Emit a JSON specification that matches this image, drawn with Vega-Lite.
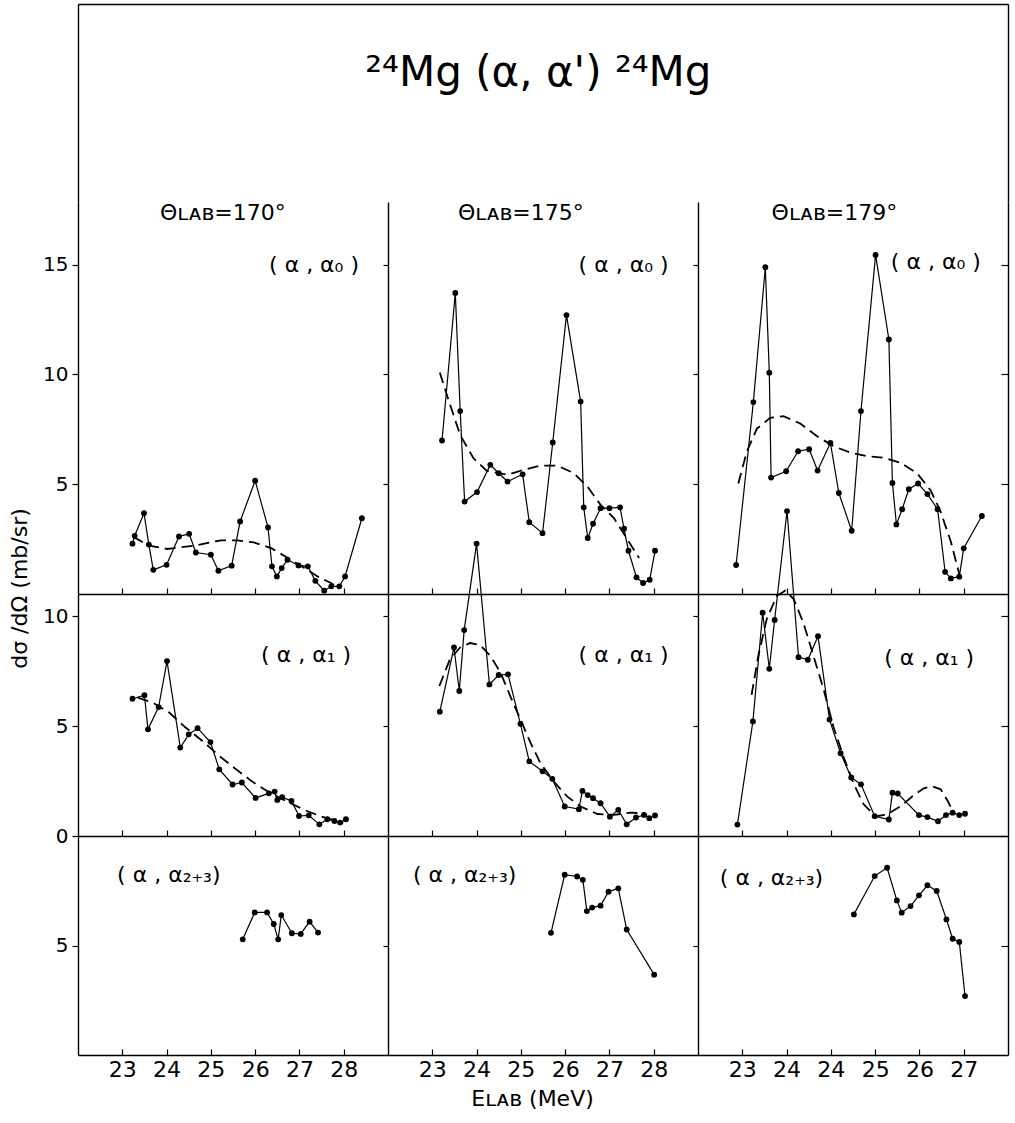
{
"$schema":"https://vega.github.io/schema/vega-lite/v6.json",
"background":"white",
"padding":{"left":8,"top":4,"right":5,"bottom":5},
"config":{
 "view":{"stroke":null},
 "axis":{"grid":false,"domainColor":"#000","domainWidth":1.4,"tickColor":"#000","tickWidth":1.2,"labelColor":"#000","labelFont":"DejaVu Sans","labelFontSize":20,"titleColor":"#000","titleFont":"DejaVu Sans","titleFontSize":22,"titleFontWeight":"normal"},
 "text":{"font":"DejaVu Sans","color":"#000"}
},
"datasets":{
 "meas":[
  {"angle":170,"trans":"a0","E":23.23,"sigma":2.29},{"angle":170,"trans":"a0","E":23.28,"sigma":2.65},{"angle":170,"trans":"a0","E":23.49,"sigma":3.68},{"angle":170,"trans":"a0","E":23.6,"sigma":2.25},{"angle":170,"trans":"a0","E":23.7,"sigma":1.1},{"angle":170,"trans":"a0","E":24.0,"sigma":1.33},{"angle":170,"trans":"a0","E":24.28,"sigma":2.62},{"angle":170,"trans":"a0","E":24.51,"sigma":2.74},{"angle":170,"trans":"a0","E":24.66,"sigma":1.89},{"angle":170,"trans":"a0","E":25.0,"sigma":1.79},{"angle":170,"trans":"a0","E":25.17,"sigma":1.06},{"angle":170,"trans":"a0","E":25.47,"sigma":1.29},{"angle":170,"trans":"a0","E":25.66,"sigma":3.3},{"angle":170,"trans":"a0","E":26.0,"sigma":5.16},{"angle":170,"trans":"a0","E":26.29,"sigma":3.03},{"angle":170,"trans":"a0","E":26.38,"sigma":1.26},{"angle":170,"trans":"a0","E":26.49,"sigma":0.8},{"angle":170,"trans":"a0","E":26.6,"sigma":1.18},{"angle":170,"trans":"a0","E":26.73,"sigma":1.56},{"angle":170,"trans":"a0","E":26.98,"sigma":1.3},{"angle":170,"trans":"a0","E":27.19,"sigma":1.26},{"angle":170,"trans":"a0","E":27.36,"sigma":0.6},{"angle":170,"trans":"a0","E":27.56,"sigma":0.15},{"angle":170,"trans":"a0","E":27.72,"sigma":0.35},{"angle":170,"trans":"a0","E":27.9,"sigma":0.35},{"angle":170,"trans":"a0","E":28.03,"sigma":0.8},{"angle":170,"trans":"a0","E":28.41,"sigma":3.45},
  {"angle":175,"trans":"a0","E":23.22,"sigma":6.99},{"angle":175,"trans":"a0","E":23.52,"sigma":13.71},{"angle":175,"trans":"a0","E":23.63,"sigma":8.33},{"angle":175,"trans":"a0","E":23.73,"sigma":4.21},{"angle":175,"trans":"a0","E":24.01,"sigma":4.64},{"angle":175,"trans":"a0","E":24.31,"sigma":5.88},{"angle":175,"trans":"a0","E":24.5,"sigma":5.5},{"angle":175,"trans":"a0","E":24.7,"sigma":5.12},{"angle":175,"trans":"a0","E":25.04,"sigma":5.45},{"angle":175,"trans":"a0","E":25.19,"sigma":3.27},{"angle":175,"trans":"a0","E":25.49,"sigma":2.77},{"angle":175,"trans":"a0","E":25.72,"sigma":6.9},{"angle":175,"trans":"a0","E":26.03,"sigma":12.7},{"angle":175,"trans":"a0","E":26.35,"sigma":8.76},{"angle":175,"trans":"a0","E":26.42,"sigma":3.94},{"angle":175,"trans":"a0","E":26.51,"sigma":2.55},{"angle":175,"trans":"a0","E":26.63,"sigma":3.2},{"angle":175,"trans":"a0","E":26.8,"sigma":3.91},{"angle":175,"trans":"a0","E":27.0,"sigma":3.91},{"angle":175,"trans":"a0","E":27.24,"sigma":3.94},{"angle":175,"trans":"a0","E":27.33,"sigma":2.97},{"angle":175,"trans":"a0","E":27.43,"sigma":1.97},{"angle":175,"trans":"a0","E":27.61,"sigma":0.76},{"angle":175,"trans":"a0","E":27.76,"sigma":0.5},{"angle":175,"trans":"a0","E":27.91,"sigma":0.65},{"angle":175,"trans":"a0","E":28.03,"sigma":1.97},
  {"angle":179,"trans":"a0","E":22.86,"sigma":1.32},{"angle":179,"trans":"a0","E":23.25,"sigma":8.74},{"angle":179,"trans":"a0","E":23.52,"sigma":14.88},{"angle":179,"trans":"a0","E":23.61,"sigma":10.08},{"angle":179,"trans":"a0","E":23.65,"sigma":5.3},{"angle":179,"trans":"a0","E":23.99,"sigma":5.59},{"angle":179,"trans":"a0","E":24.26,"sigma":6.5},{"angle":179,"trans":"a0","E":24.51,"sigma":6.59},{"angle":179,"trans":"a0","E":24.7,"sigma":5.62},{"angle":179,"trans":"a0","E":24.99,"sigma":6.88},{"angle":179,"trans":"a0","E":25.18,"sigma":4.6},{"angle":179,"trans":"a0","E":25.47,"sigma":2.88},{"angle":179,"trans":"a0","E":25.68,"sigma":8.33},{"angle":179,"trans":"a0","E":26.01,"sigma":15.44},{"angle":179,"trans":"a0","E":26.31,"sigma":11.59},{"angle":179,"trans":"a0","E":26.39,"sigma":5.06},{"angle":179,"trans":"a0","E":26.48,"sigma":3.17},{"angle":179,"trans":"a0","E":26.61,"sigma":3.86},{"angle":179,"trans":"a0","E":26.76,"sigma":4.77},{"angle":179,"trans":"a0","E":26.97,"sigma":5.03},{"angle":179,"trans":"a0","E":27.18,"sigma":4.55},{"angle":179,"trans":"a0","E":27.41,"sigma":3.86},{"angle":179,"trans":"a0","E":27.58,"sigma":1.01},{"angle":179,"trans":"a0","E":27.71,"sigma":0.71},{"angle":179,"trans":"a0","E":27.9,"sigma":0.79},{"angle":179,"trans":"a0","E":28.0,"sigma":2.08},{"angle":179,"trans":"a0","E":28.41,"sigma":3.55},
  {"angle":170,"trans":"a1","E":23.23,"sigma":6.24},{"angle":170,"trans":"a1","E":23.5,"sigma":6.4},{"angle":170,"trans":"a1","E":23.58,"sigma":4.85},{"angle":170,"trans":"a1","E":23.82,"sigma":5.86},{"angle":170,"trans":"a1","E":24.01,"sigma":7.95},{"angle":170,"trans":"a1","E":24.31,"sigma":4.02},{"angle":170,"trans":"a1","E":24.5,"sigma":4.62},{"angle":170,"trans":"a1","E":24.7,"sigma":4.9},{"angle":170,"trans":"a1","E":24.99,"sigma":4.27},{"angle":170,"trans":"a1","E":25.19,"sigma":3.03},{"angle":170,"trans":"a1","E":25.49,"sigma":2.34},{"angle":170,"trans":"a1","E":25.7,"sigma":2.43},{"angle":170,"trans":"a1","E":26.01,"sigma":1.73},{"angle":170,"trans":"a1","E":26.31,"sigma":1.94},{"angle":170,"trans":"a1","E":26.44,"sigma":2.02},{"angle":170,"trans":"a1","E":26.5,"sigma":1.64},{"angle":170,"trans":"a1","E":26.61,"sigma":1.76},{"angle":170,"trans":"a1","E":26.82,"sigma":1.59},{"angle":170,"trans":"a1","E":26.99,"sigma":0.91},{"angle":170,"trans":"a1","E":27.21,"sigma":0.94},{"angle":170,"trans":"a1","E":27.45,"sigma":0.53},{"angle":170,"trans":"a1","E":27.63,"sigma":0.76},{"angle":170,"trans":"a1","E":27.79,"sigma":0.68},{"angle":170,"trans":"a1","E":27.92,"sigma":0.61},{"angle":170,"trans":"a1","E":28.05,"sigma":0.76},
  {"angle":175,"trans":"a1","E":23.17,"sigma":5.65},{"angle":175,"trans":"a1","E":23.49,"sigma":8.57},{"angle":175,"trans":"a1","E":23.61,"sigma":6.59},{"angle":175,"trans":"a1","E":23.72,"sigma":9.36},{"angle":175,"trans":"a1","E":24.0,"sigma":13.29},{"angle":175,"trans":"a1","E":24.29,"sigma":6.89},{"angle":175,"trans":"a1","E":24.5,"sigma":7.32},{"angle":175,"trans":"a1","E":24.71,"sigma":7.35},{"angle":175,"trans":"a1","E":24.99,"sigma":5.1},{"angle":175,"trans":"a1","E":25.19,"sigma":3.39},{"angle":175,"trans":"a1","E":25.49,"sigma":2.94},{"angle":175,"trans":"a1","E":25.71,"sigma":2.6},{"angle":175,"trans":"a1","E":25.99,"sigma":1.34},{"angle":175,"trans":"a1","E":26.31,"sigma":1.22},{"angle":175,"trans":"a1","E":26.39,"sigma":2.05},{"angle":175,"trans":"a1","E":26.51,"sigma":1.86},{"angle":175,"trans":"a1","E":26.63,"sigma":1.72},{"angle":175,"trans":"a1","E":26.8,"sigma":1.49},{"angle":175,"trans":"a1","E":27.01,"sigma":0.88},{"angle":175,"trans":"a1","E":27.2,"sigma":1.19},{"angle":175,"trans":"a1","E":27.39,"sigma":0.53},{"angle":175,"trans":"a1","E":27.6,"sigma":0.84},{"angle":175,"trans":"a1","E":27.78,"sigma":0.96},{"angle":175,"trans":"a1","E":27.9,"sigma":0.81},{"angle":175,"trans":"a1","E":28.03,"sigma":0.93},
  {"angle":179,"trans":"a1","E":22.89,"sigma":0.52},{"angle":179,"trans":"a1","E":23.24,"sigma":5.21},{"angle":179,"trans":"a1","E":23.46,"sigma":10.15},{"angle":179,"trans":"a1","E":23.61,"sigma":7.6},{"angle":179,"trans":"a1","E":23.73,"sigma":9.82},{"angle":179,"trans":"a1","E":24.01,"sigma":14.77},{"angle":179,"trans":"a1","E":24.27,"sigma":8.13},{"angle":179,"trans":"a1","E":24.48,"sigma":8.01},{"angle":179,"trans":"a1","E":24.71,"sigma":9.08},{"angle":179,"trans":"a1","E":24.97,"sigma":5.29},{"angle":179,"trans":"a1","E":25.22,"sigma":3.76},{"angle":179,"trans":"a1","E":25.46,"sigma":2.66},{"angle":179,"trans":"a1","E":25.68,"sigma":2.35},{"angle":179,"trans":"a1","E":25.99,"sigma":0.9},{"angle":179,"trans":"a1","E":26.31,"sigma":0.75},{"angle":179,"trans":"a1","E":26.39,"sigma":1.97},{"angle":179,"trans":"a1","E":26.51,"sigma":1.93},{"angle":179,"trans":"a1","E":26.99,"sigma":0.95},{"angle":179,"trans":"a1","E":27.18,"sigma":0.86},{"angle":179,"trans":"a1","E":27.42,"sigma":0.67},{"angle":179,"trans":"a1","E":27.6,"sigma":0.95},{"angle":179,"trans":"a1","E":27.75,"sigma":1.06},{"angle":179,"trans":"a1","E":27.9,"sigma":0.95},{"angle":179,"trans":"a1","E":28.03,"sigma":1.01},
  {"angle":170,"trans":"a23","E":25.72,"sigma":4.72},{"angle":170,"trans":"a23","E":25.99,"sigma":3.49},{"angle":170,"trans":"a23","E":26.27,"sigma":3.49},{"angle":170,"trans":"a23","E":26.42,"sigma":4.02},{"angle":170,"trans":"a23","E":26.52,"sigma":4.72},{"angle":170,"trans":"a23","E":26.59,"sigma":3.61},{"angle":170,"trans":"a23","E":26.83,"sigma":4.44},{"angle":170,"trans":"a23","E":27.03,"sigma":4.47},{"angle":170,"trans":"a23","E":27.23,"sigma":3.91},{"angle":170,"trans":"a23","E":27.42,"sigma":4.41},
  {"angle":175,"trans":"a23","E":25.68,"sigma":4.42},{"angle":175,"trans":"a23","E":25.99,"sigma":1.77},{"angle":175,"trans":"a23","E":26.27,"sigma":1.85},{"angle":175,"trans":"a23","E":26.4,"sigma":2.0},{"angle":175,"trans":"a23","E":26.49,"sigma":3.43},{"angle":175,"trans":"a23","E":26.61,"sigma":3.27},{"angle":175,"trans":"a23","E":26.8,"sigma":3.18},{"angle":175,"trans":"a23","E":26.98,"sigma":2.54},{"angle":175,"trans":"a23","E":27.2,"sigma":2.39},{"angle":175,"trans":"a23","E":27.39,"sigma":4.27},{"angle":175,"trans":"a23","E":28.01,"sigma":6.33},
  {"angle":179,"trans":"a23","E":25.52,"sigma":3.58},{"angle":179,"trans":"a23","E":25.99,"sigma":1.83},{"angle":179,"trans":"a23","E":26.27,"sigma":1.45},{"angle":179,"trans":"a23","E":26.49,"sigma":2.94},{"angle":179,"trans":"a23","E":26.6,"sigma":3.5},{"angle":179,"trans":"a23","E":26.8,"sigma":3.2},{"angle":179,"trans":"a23","E":26.99,"sigma":2.71},{"angle":179,"trans":"a23","E":27.18,"sigma":2.25},{"angle":179,"trans":"a23","E":27.39,"sigma":2.51},{"angle":179,"trans":"a23","E":27.61,"sigma":3.81},{"angle":179,"trans":"a23","E":27.75,"sigma":4.69},{"angle":179,"trans":"a23","E":27.9,"sigma":4.84},{"angle":179,"trans":"a23","E":28.03,"sigma":7.31}
 ],
 "fit":[
  {"angle":170,"trans":"a0","E":23.25,"sigma":2.6},{"angle":170,"trans":"a0","E":23.6,"sigma":2.2},{"angle":170,"trans":"a0","E":24.02,"sigma":2.05},{"angle":170,"trans":"a0","E":24.62,"sigma":2.2},{"angle":170,"trans":"a0","E":25.22,"sigma":2.44},{"angle":170,"trans":"a0","E":25.6,"sigma":2.44},{"angle":170,"trans":"a0","E":25.97,"sigma":2.35},{"angle":170,"trans":"a0","E":26.36,"sigma":2.09},{"angle":170,"trans":"a0","E":26.74,"sigma":1.64},{"angle":170,"trans":"a0","E":27.11,"sigma":1.18},{"angle":170,"trans":"a0","E":27.41,"sigma":0.8},{"angle":170,"trans":"a0","E":27.71,"sigma":0.5},{"angle":170,"trans":"a0","E":27.8,"sigma":0.38},
  {"angle":175,"trans":"a0","E":23.17,"sigma":10.09},{"angle":175,"trans":"a0","E":23.33,"sigma":9.06},{"angle":175,"trans":"a0","E":23.63,"sigma":7.24},{"angle":175,"trans":"a0","E":23.93,"sigma":6.18},{"angle":175,"trans":"a0","E":24.23,"sigma":5.61},{"angle":175,"trans":"a0","E":24.69,"sigma":5.43},{"angle":175,"trans":"a0","E":25.06,"sigma":5.65},{"angle":175,"trans":"a0","E":25.44,"sigma":5.85},{"angle":175,"trans":"a0","E":25.82,"sigma":5.85},{"angle":175,"trans":"a0","E":26.2,"sigma":5.5},{"angle":175,"trans":"a0","E":26.5,"sigma":4.9},{"angle":175,"trans":"a0","E":26.8,"sigma":4.06},{"angle":175,"trans":"a0","E":27.1,"sigma":3.46},{"angle":175,"trans":"a0","E":27.41,"sigma":2.47},{"angle":175,"trans":"a0","E":27.67,"sigma":1.64},
  {"angle":179,"trans":"a0","E":22.91,"sigma":5.03},{"angle":179,"trans":"a0","E":23.1,"sigma":6.47},{"angle":179,"trans":"a0","E":23.33,"sigma":7.53},{"angle":179,"trans":"a0","E":23.63,"sigma":8.02},{"angle":179,"trans":"a0","E":23.93,"sigma":8.1},{"angle":179,"trans":"a0","E":24.31,"sigma":7.76},{"angle":179,"trans":"a0","E":24.69,"sigma":7.18},{"angle":179,"trans":"a0","E":25.06,"sigma":6.73},{"angle":179,"trans":"a0","E":25.44,"sigma":6.44},{"angle":179,"trans":"a0","E":25.82,"sigma":6.27},{"angle":179,"trans":"a0","E":26.2,"sigma":6.2},{"angle":179,"trans":"a0","E":26.58,"sigma":5.97},{"angle":179,"trans":"a0","E":26.95,"sigma":5.49},{"angle":179,"trans":"a0","E":27.25,"sigma":4.73},{"angle":179,"trans":"a0","E":27.48,"sigma":3.74},{"angle":179,"trans":"a0","E":27.71,"sigma":2.38},{"angle":179,"trans":"a0","E":27.9,"sigma":0.9},
  {"angle":170,"trans":"a1","E":23.35,"sigma":6.29},{"angle":170,"trans":"a1","E":23.69,"sigma":6.06},{"angle":170,"trans":"a1","E":24.06,"sigma":5.61},{"angle":170,"trans":"a1","E":24.43,"sigma":4.93},{"angle":170,"trans":"a1","E":24.81,"sigma":4.32},{"angle":170,"trans":"a1","E":25.19,"sigma":3.64},{"angle":170,"trans":"a1","E":25.57,"sigma":3.03},{"angle":170,"trans":"a1","E":25.95,"sigma":2.45},{"angle":170,"trans":"a1","E":26.33,"sigma":1.97},{"angle":170,"trans":"a1","E":26.7,"sigma":1.59},{"angle":170,"trans":"a1","E":27.08,"sigma":1.21},{"angle":170,"trans":"a1","E":27.46,"sigma":0.91},{"angle":170,"trans":"a1","E":27.84,"sigma":0.68},{"angle":170,"trans":"a1","E":27.99,"sigma":0.6},
  {"angle":175,"trans":"a1","E":23.16,"sigma":6.82},{"angle":175,"trans":"a1","E":23.4,"sigma":8.04},{"angle":175,"trans":"a1","E":23.63,"sigma":8.57},{"angle":175,"trans":"a1","E":23.85,"sigma":8.77},{"angle":175,"trans":"a1","E":24.08,"sigma":8.68},{"angle":175,"trans":"a1","E":24.31,"sigma":8.19},{"angle":175,"trans":"a1","E":24.54,"sigma":7.43},{"angle":175,"trans":"a1","E":24.76,"sigma":6.36},{"angle":175,"trans":"a1","E":24.99,"sigma":5.3},{"angle":175,"trans":"a1","E":25.22,"sigma":4.23},{"angle":175,"trans":"a1","E":25.44,"sigma":3.32},{"angle":175,"trans":"a1","E":25.74,"sigma":2.48},{"angle":175,"trans":"a1","E":26.05,"sigma":1.79},{"angle":175,"trans":"a1","E":26.35,"sigma":1.34},{"angle":175,"trans":"a1","E":26.73,"sigma":1.0},{"angle":175,"trans":"a1","E":27.1,"sigma":0.96},{"angle":175,"trans":"a1","E":27.48,"sigma":1.06},{"angle":175,"trans":"a1","E":27.78,"sigma":1.03},{"angle":175,"trans":"a1","E":27.85,"sigma":0.95},
  {"angle":179,"trans":"a1","E":23.21,"sigma":6.41},{"angle":179,"trans":"a1","E":23.36,"sigma":8.17},{"angle":179,"trans":"a1","E":23.55,"sigma":9.85},{"angle":179,"trans":"a1","E":23.78,"sigma":10.92},{"angle":179,"trans":"a1","E":23.97,"sigma":11.15},{"angle":179,"trans":"a1","E":24.16,"sigma":10.77},{"angle":179,"trans":"a1","E":24.38,"sigma":9.69},{"angle":179,"trans":"a1","E":24.61,"sigma":8.17},{"angle":179,"trans":"a1","E":24.84,"sigma":6.64},{"angle":179,"trans":"a1","E":25.06,"sigma":4.95},{"angle":179,"trans":"a1","E":25.29,"sigma":3.58},{"angle":179,"trans":"a1","E":25.52,"sigma":2.35},{"angle":179,"trans":"a1","E":25.74,"sigma":1.44},{"angle":179,"trans":"a1","E":26.01,"sigma":0.9},{"angle":179,"trans":"a1","E":26.27,"sigma":0.98},{"angle":179,"trans":"a1","E":26.58,"sigma":1.36},{"angle":179,"trans":"a1","E":26.88,"sigma":1.87},{"angle":179,"trans":"a1","E":27.1,"sigma":2.17},{"angle":179,"trans":"a1","E":27.29,"sigma":2.26},{"angle":179,"trans":"a1","E":27.48,"sigma":2.12},{"angle":179,"trans":"a1","E":27.64,"sigma":1.59},{"angle":179,"trans":"a1","E":27.79,"sigma":0.98}
 ]
},
"spacing":0,
"bounds":"flush",
"vconcat":[
 {
  "width":930,"height":198,
  "data":{"values":[{}]},
  "layer":[
   {"mark":{"type":"text","fontSize":42,"align":"center","baseline":"middle"},
    "encoding":{
     "x":{"datum":0.495,"type":"quantitative","scale":{"domain":[0,1]},"axis":{"orient":"top","ticks":false,"labels":false,"title":null,"domainWidth":1.6}},
     "y":{"datum":0.65,"type":"quantitative","scale":{"domain":[0,1]},"axis":{"orient":"left","ticks":false,"labels":false,"title":null}},
     "text":{"value":"²⁴Mg (α, α') ²⁴Mg"}}},
   {"mark":{"type":"point","opacity":0},
    "encoding":{"y":{"datum":0.5,"type":"quantitative","scale":{"domain":[0,1]},"axis":{"orient":"right","ticks":false,"labels":false,"title":null}}}}
  ],
  "resolve":{"scale":{"y":"independent"}}
 },
 {
  "columns":3,"spacing":0,"bounds":"flush",
  "concat":[
   {"width":310,"height":392,"layer":[
     {"data":{"name":"meas"},"transform":[{"filter":"datum.angle==170 && datum.trans=='a0'"}],
      "mark":{"type":"line","color":"black","strokeWidth":1.2,"point":{"filled":true,"color":"black","size":34,"opacity":1}},
      "encoding":{"x":{"field":"E","type":"quantitative","scale":{"domain":[22,29],"nice":false,"zero":false},"axis":{"values":[23,24,25,26,27,28],"labels":false,"tickSize":-6,"title":null}},
                  "y":{"field":"sigma","type":"quantitative","scale":{"domain":[0,17.85],"nice":false,"zero":false},"axis":{"values":[5,10,15],"tickSize":6,"labelPadding":4,"title":null}}}},
     {"data":{"name":"fit"},"transform":[{"filter":"datum.angle==170 && datum.trans=='a0'"}],
      "mark":{"type":"line","color":"black","strokeWidth":1.8,"strokeDash":[11,6]},
      "encoding":{"x":{"field":"E","type":"quantitative"},"y":{"field":"sigma","type":"quantitative"}}},
     {"data":{"values":[{}]},"mark":{"type":"text","fontSize":22},"encoding":{"x":{"datum":27.33},"y":{"datum":15.0},"text":{"value":"( α , α₀ )"}}},
     {"data":{"values":[{}]},"mark":{"type":"text","fontSize":22},"encoding":{"x":{"datum":25.27},"y":{"datum":17.34},"text":{"value":"Θʟᴀʙ=170°"}}}
   ]},
   {"width":310,"height":392,"layer":[
     {"data":{"name":"meas"},"transform":[{"filter":"datum.angle==175 && datum.trans=='a0'"}],
      "mark":{"type":"line","color":"black","strokeWidth":1.2,"point":{"filled":true,"color":"black","size":34,"opacity":1}},
      "encoding":{"x":{"field":"E","type":"quantitative","scale":{"domain":[22,29],"nice":false,"zero":false},"axis":{"values":[23,24,25,26,27,28],"labels":false,"tickSize":-6,"title":null}},
                  "y":{"field":"sigma","type":"quantitative","scale":{"domain":[0,17.85],"nice":false,"zero":false},"axis":{"values":[5,10,15],"tickSize":5,"labels":false,"title":null}}}},
     {"data":{"name":"fit"},"transform":[{"filter":"datum.angle==175 && datum.trans=='a0'"}],
      "mark":{"type":"line","color":"black","strokeWidth":1.8,"strokeDash":[11,6]},
      "encoding":{"x":{"field":"E","type":"quantitative"},"y":{"field":"sigma","type":"quantitative"}}},
     {"data":{"values":[{}]},"mark":{"type":"text","fontSize":22},"encoding":{"x":{"datum":27.32},"y":{"datum":15.0},"text":{"value":"( α , α₀ )"}}},
     {"data":{"values":[{}]},"mark":{"type":"text","fontSize":22},"encoding":{"x":{"datum":25.0},"y":{"datum":17.34},"text":{"value":"Θʟᴀʙ=175°"}}}
   ]},
   {"width":310,"height":392,"layer":[
     {"layer":[
      {"data":{"name":"meas"},"transform":[{"filter":"datum.angle==179 && datum.trans=='a0'"}],
       "mark":{"type":"line","color":"black","strokeWidth":1.2,"point":{"filled":true,"color":"black","size":34,"opacity":1}},
       "encoding":{"x":{"field":"E","type":"quantitative","scale":{"domain":[22,29],"nice":false,"zero":false},"axis":{"values":[23,24,25,26,27,28],"labels":false,"tickSize":-6,"title":null}},
                   "y":{"field":"sigma","type":"quantitative","scale":{"domain":[0,17.85],"nice":false,"zero":false},"axis":{"orient":"left","values":[5,10,15],"tickSize":5,"labels":false,"title":null}}}},
      {"data":{"name":"fit"},"transform":[{"filter":"datum.angle==179 && datum.trans=='a0'"}],
       "mark":{"type":"line","color":"black","strokeWidth":1.8,"strokeDash":[11,6]},
       "encoding":{"x":{"field":"E","type":"quantitative"},"y":{"field":"sigma","type":"quantitative"}}},
      {"data":{"values":[{}]},"mark":{"type":"text","fontSize":22},"encoding":{"x":{"datum":27.37},"y":{"datum":15.1},"text":{"value":"( α , α₀ )"}}},
      {"data":{"values":[{}]},"mark":{"type":"text","fontSize":22},"encoding":{"x":{"datum":25.08},"y":{"datum":17.34},"text":{"value":"Θʟᴀʙ=179°"}}}
     ]},
     {"data":{"values":[{}]},"mark":{"type":"point","opacity":0},
      "encoding":{"y":{"datum":1,"type":"quantitative","scale":{"domain":[0,17.85],"nice":false,"zero":false},"axis":{"orient":"right","values":[5,10,15],"tickSize":-7,"labels":false,"title":null}}}}
   ],"resolve":{"scale":{"y":"independent"}}},

   {"width":310,"height":242,"layer":[
     {"data":{"name":"meas"},"transform":[{"filter":"datum.angle==170 && datum.trans=='a1'"}],
      "mark":{"type":"line","color":"black","strokeWidth":1.2,"point":{"filled":true,"color":"black","size":34,"opacity":1}},
      "encoding":{"x":{"field":"E","type":"quantitative","scale":{"domain":[22,29],"nice":false,"zero":false},"axis":{"values":[23,24,25,26,27,28],"labels":false,"tickSize":-6,"title":null}},
                  "y":{"field":"sigma","type":"quantitative","scale":{"domain":[0,11],"nice":false,"zero":false},"axis":{"values":[0,5,10],"tickSize":6,"labelPadding":4,"title":"dσ /dΩ  (mb/sr)","titleX":-47,"titleY":-6}}}},
     {"data":{"name":"fit"},"transform":[{"filter":"datum.angle==170 && datum.trans=='a1'"}],
      "mark":{"type":"line","color":"black","strokeWidth":1.8,"strokeDash":[11,6]},
      "encoding":{"x":{"field":"E","type":"quantitative"},"y":{"field":"sigma","type":"quantitative"}}},
     {"data":{"values":[{}]},"mark":{"type":"text","fontSize":22},"encoding":{"x":{"datum":27.15},"y":{"datum":8.25},"text":{"value":"( α , α₁ )"}}}
   ]},
   {"width":310,"height":242,"layer":[
     {"data":{"name":"meas"},"transform":[{"filter":"datum.angle==175 && datum.trans=='a1'"}],
      "mark":{"type":"line","color":"black","strokeWidth":1.2,"point":{"filled":true,"color":"black","size":34,"opacity":1}},
      "encoding":{"x":{"field":"E","type":"quantitative","scale":{"domain":[22,29],"nice":false,"zero":false},"axis":{"values":[23,24,25,26,27,28],"labels":false,"tickSize":-6,"title":null}},
                  "y":{"field":"sigma","type":"quantitative","scale":{"domain":[0,11],"nice":false,"zero":false},"axis":{"values":[0,5,10],"tickSize":5,"labels":false,"title":null}}}},
     {"data":{"name":"fit"},"transform":[{"filter":"datum.angle==175 && datum.trans=='a1'"}],
      "mark":{"type":"line","color":"black","strokeWidth":1.8,"strokeDash":[11,6]},
      "encoding":{"x":{"field":"E","type":"quantitative"},"y":{"field":"sigma","type":"quantitative"}}},
     {"data":{"values":[{}]},"mark":{"type":"text","fontSize":22},"encoding":{"x":{"datum":27.32},"y":{"datum":8.25},"text":{"value":"( α , α₁ )"}}}
   ]},
   {"width":310,"height":242,"layer":[
     {"layer":[
      {"data":{"name":"meas"},"transform":[{"filter":"datum.angle==179 && datum.trans=='a1'"}],
       "mark":{"type":"line","color":"black","strokeWidth":1.2,"point":{"filled":true,"color":"black","size":34,"opacity":1}},
       "encoding":{"x":{"field":"E","type":"quantitative","scale":{"domain":[22,29],"nice":false,"zero":false},"axis":{"values":[23,24,25,26,27,28],"labels":false,"tickSize":-6,"title":null}},
                   "y":{"field":"sigma","type":"quantitative","scale":{"domain":[0,11],"nice":false,"zero":false},"axis":{"orient":"left","values":[0,5,10],"tickSize":5,"labels":false,"title":null}}}},
      {"data":{"name":"fit"},"transform":[{"filter":"datum.angle==179 && datum.trans=='a1'"}],
       "mark":{"type":"line","color":"black","strokeWidth":1.8,"strokeDash":[11,6]},
       "encoding":{"x":{"field":"E","type":"quantitative"},"y":{"field":"sigma","type":"quantitative"}}},
      {"data":{"values":[{}]},"mark":{"type":"text","fontSize":22},"encoding":{"x":{"datum":27.22},"y":{"datum":8.1},"text":{"value":"( α , α₁ )"}}}
     ]},
     {"data":{"values":[{}]},"mark":{"type":"point","opacity":0},
      "encoding":{"y":{"datum":1,"type":"quantitative","scale":{"domain":[0,11],"nice":false,"zero":false},"axis":{"orient":"right","values":[0,5,10],"tickSize":-7,"labels":false,"title":null}}}}
   ],"resolve":{"scale":{"y":"independent"}}},

   {"width":310,"height":219,"layer":[
     {"data":{"name":"meas"},"transform":[{"filter":"datum.angle==170 && datum.trans=='a23'"}],
      "mark":{"type":"line","color":"black","strokeWidth":1.2,"point":{"filled":true,"color":"black","size":34,"opacity":1}},
      "encoding":{"x":{"field":"E","type":"quantitative","scale":{"domain":[22,29],"nice":false,"zero":false},"axis":{"values":[23,24,25,26,27,28],"tickSize":-6,"labelPadding":10,"labelFontSize":22,"title":null}},
                  "y":{"field":"sigma","type":"quantitative","scale":{"domain":[0,10],"reverse":true,"nice":false,"zero":false},"axis":{"values":[5],"tickSize":6,"labelPadding":4,"title":null}}}},
     {"data":{"values":[{}]},"mark":{"type":"text","fontSize":22},"encoding":{"x":{"datum":24.05},"y":{"datum":1.8},"text":{"value":"( α , α₂₊₃)"}}}
   ]},
   {"width":310,"height":219,"layer":[
     {"data":{"name":"meas"},"transform":[{"filter":"datum.angle==175 && datum.trans=='a23'"}],
      "mark":{"type":"line","color":"black","strokeWidth":1.2,"point":{"filled":true,"color":"black","size":34,"opacity":1}},
      "encoding":{"x":{"field":"E","type":"quantitative","scale":{"domain":[22,29],"nice":false,"zero":false},"axis":{"values":[23,24,25,26,27,28],"tickSize":-6,"labelPadding":10,"labelFontSize":22,"title":"Eʟᴀʙ (MeV)","titleX":144,"titlePadding":8,"titleFontSize":22}},
                  "y":{"field":"sigma","type":"quantitative","scale":{"domain":[0,10],"reverse":true,"nice":false,"zero":false},"axis":{"values":[5],"tickSize":5,"labels":false,"title":null}}}},
     {"data":{"values":[{}]},"mark":{"type":"text","fontSize":22},"encoding":{"x":{"datum":23.73},"y":{"datum":1.8},"text":{"value":"( α , α₂₊₃)"}}}
   ]},
   {"width":310,"height":219,"layer":[
     {"layer":[
      {"data":{"name":"meas"},"transform":[{"filter":"datum.angle==179 && datum.trans=='a23'"}],
       "mark":{"type":"line","color":"black","strokeWidth":1.2,"point":{"filled":true,"color":"black","size":34,"opacity":1}},
       "encoding":{"x":{"field":"E","type":"quantitative","scale":{"domain":[22,29],"nice":false,"zero":false},"axis":{"values":[23,24,25,26,27,28],"tickSize":-6,"labelPadding":10,"labelFontSize":22,"title":null,"labelExpr":"datum.value <= 24 ? datum.label : format(datum.value - 1, 'd')"}},
                   "y":{"field":"sigma","type":"quantitative","scale":{"domain":[0,10],"reverse":true,"nice":false,"zero":false},"axis":{"orient":"left","values":[5],"tickSize":5,"labels":false,"title":null}}}},
      {"data":{"values":[{}]},"mark":{"type":"text","fontSize":22},"encoding":{"x":{"datum":23.66},"y":{"datum":1.9},"text":{"value":"( α , α₂₊₃)"}}}
     ]},
     {"data":{"values":[{}]},"mark":{"type":"point","opacity":0},
      "encoding":{"y":{"datum":1,"type":"quantitative","scale":{"domain":[0,10],"reverse":true,"nice":false,"zero":false},"axis":{"orient":"right","values":[5],"tickSize":-7,"labels":false,"title":null}}}}
   ],"resolve":{"scale":{"y":"independent"}}}
  ]
 }
]
}
